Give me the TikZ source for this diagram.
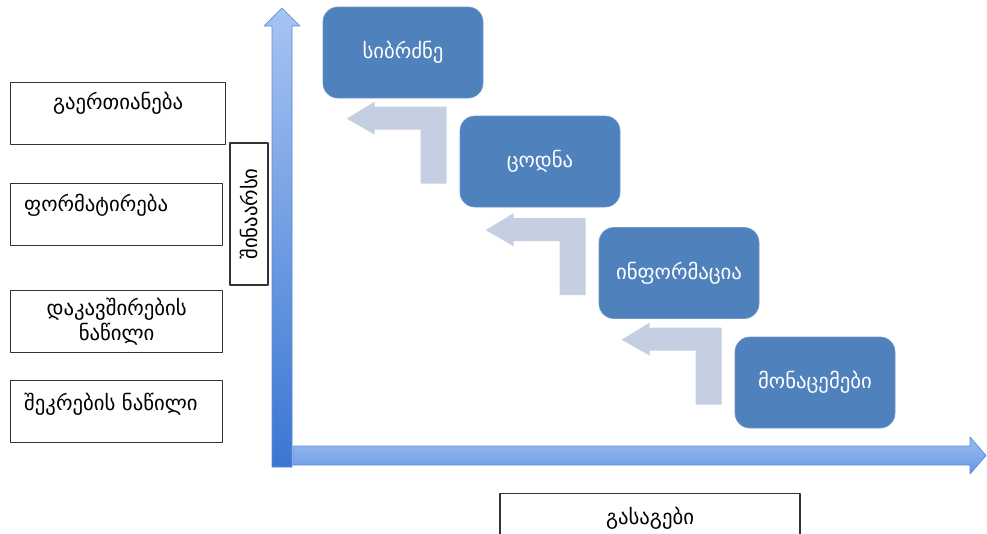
\documentclass[tikz,border=0pt]{standalone}
\usepackage{fontspec}
\setmainfont{DejaVu Sans}
\usetikzlibrary{positioning, calc}

\definecolor{stageblue}{HTML}{4F81BD}
\definecolor{stageedge}{HTML}{6F96C8}
\definecolor{bendgray}{HTML}{C5CFE2}
\definecolor{axtop}{HTML}{A7C4F2}
\definecolor{axbot}{HTML}{3A76D2}
\definecolor{axmid}{HTML}{6E9EE8}
\definecolor{axedge}{HTML}{5A8AD8}

\begin{document}
\begin{tikzpicture}[x=0.2mm, y=-0.2mm, line join=round,
    font=\fontsize{11.8}{14.7}\selectfont,
    stage/.style={draw=stageedge, fill=stageblue, text=white, rounded corners=3mm,
        minimum width=32mm, minimum height=18.2mm},
    sidebox/.style={draw=black!80, line width=0.7pt, anchor=north west,
        minimum width=42.4mm, minimum height=12.4mm},
    bentarrow/.style={fill=bendgray}]
    \useasboundingbox (0,0) rectangle (987,533);
    \clip (0,0) rectangle (987,533);

    % axes
    \shade[top color=axtop, bottom color=axbot, draw=axedge, thin]
        (272,467) -- (272,26) -- (264,26) -- (282,8) -- (300,26) -- (292,26) -- (292,467) -- cycle;
    \shade[top color=axtop!80!axmid, bottom color=axmid!85!axbot, draw=axedge, thin]
        (293,446) -- (970,446) -- (970,437) -- (986,455.5) -- (970,474) -- (970,465) -- (293,465) -- cycle;

    % stufen
    \node[stage] (wise) at (403,52.5) {სიბრძნე};
    \node[stage] (know) at (540,161.5) {ცოდნა};
    \node[stage] (info) at (679,273) {ინფორმაცია};
    \node[stage] (data) at (815,382.5) {მონაცემები};

    % bent arrows
    \foreach \n in {know,info,data}
        \fill[bentarrow] ($(\n.north west)+(-113,3)$) -- ($(\n.north west)+(-85,-14)$)
            -- ($(\n.north west)+(-85,-9)$) -- ($(\n.north west)+(-13,-9)$)
            -- ($(\n.north west)+(-13,68)$) -- ($(\n.north west)+(-39,68)$)
            -- ($(\n.north west)+(-39,14)$) -- ($(\n.north west)+(-85,14)$)
            -- ($(\n.north west)+(-85,19)$) -- cycle;

    % left boxes
    \node[sidebox, minimum width=43mm] (join) at (10,82) {};
    \node (jointxt) at ($(join.north)+(0,21)$) {გაერთიანება};
    \node[sidebox] (form) at (10,183) {};
    \node[anchor=west] (formtxt) at ($(form.north west)+(8,22)$) {ფორმატირება};
    \node[sidebox, align=center] (conn) at (10,290) {დაკავშირების\\ნაწილი};
    \node[sidebox] (gath) at (10,380) {};
    \node[anchor=west] (gathtxt) at ($(gath.north west)+(8,24)$) {შეკრების ნაწილი};

    \node[draw=black!80, line width=0.7pt, rotate=90, minimum width=28.4mm,
        minimum height=7.6mm] (cont) at (249,214) {შინაარსი};
    \node[draw=black!80, line width=0.7pt, anchor=north, minimum width=60mm,
        minimum height=10mm] (under) at (650,493) {გასაგები};
\end{tikzpicture}
\end{document}
